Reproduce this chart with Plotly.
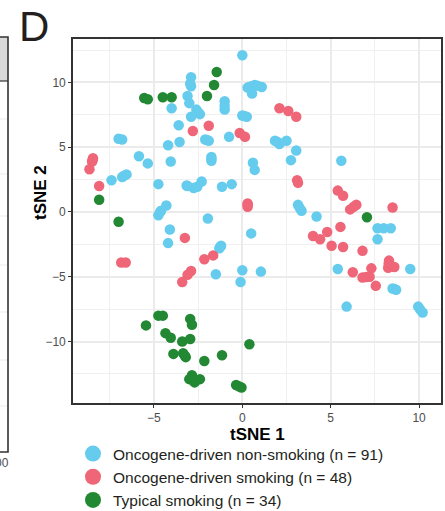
import plotly.graph_objects as go

# ---- data (tSNE coordinates) ----
nonsmk_x = [0.0, -2.9, -2.9, -3.1, -3.0, -4.0, -2.6, -2.4, -2.9, -1.0, -1.0, -3.6, 0.3, 0.7, 1.1, 0.55,
            0.0, 0.25, -7.0, -6.8, -4.2, -3.55, -2.1, -1.9, -0.75, -5.85, -5.35, -4.05, -1.75, -1.75,
            -7.4, -6.8, -6.55, -4.75, -3.15, -2.75, -2.3, -1.15, -0.6, -4.3, -4.6, -4.75, -1.95, -4.1,
            -4.2, -1.2, -1.3, -1.5, 0.0, -0.1, 1.05, 0.5, 0.6, 0.7, 1.85, 2.1, 2.5, 3.05, 2.75, 5.6,
            3.15, 3.35, 4.2, 7.65, 8.4, 7.65, 5.4, 9.5, 8.5, 8.7, 5.9, 9.95, 10.2,
            0.5, -2.95, -2.5, -1.0, 0.1, -2.0, -1.75, -6.7, -2.55, -4.65, -1.25, 2.0, 3.25, 8.0, 8.6,
            10.05, -3.1, 0.85]
nonsmk_y = [12.1, 10.4, 9.7, 8.95, 8.4, 8.0, 7.9, 7.55, 7.35, 8.55, 7.9, 6.7, 9.6, 9.8, 9.65, 9.15,
            7.45, 7.35, 5.65, 5.6, 5.15, 5.4, 5.6, 5.5, 5.8, 4.3, 3.75, 3.9, 4.25, 3.95,
            2.45, 2.7, 2.9, 2.15, 2.05, 1.85, 2.35, 1.95, 2.15, 0.5, 0.1, -0.25, -0.5, -1.35,
            -2.4, -2.6, -2.8, -4.8, -4.5, -5.4, -4.6, -1.65, 3.8, 3.25, 5.5, 5.25, 5.5, 4.75, 4.0, 3.95,
            0.55, 0.1, -0.35, -1.25, -1.25, -2.1, -4.4, -4.4, -5.9, -6.0, -7.3, -7.3, -7.75,
            9.7, 9.9, 7.7, 8.2, 7.4, 5.55, 4.1, 2.8, 1.95, 0.0, -2.7, 5.4, 0.3, -1.25, -5.95,
            -7.5, 2.0, 9.75]

onc_smk_x = [-8.45, -8.5, -8.65, -8.1, -6.85, -6.6, -2.8, -1.9, -0.15, 0.15, 0.3, 0.3, -3.25, -2.15,
             -1.65, -2.9, -3.1, -3.4, 2.1, 2.6, 3.05, 3.1, 3.15, 5.4, 5.7, 6.1, 6.45, 8.5, 5.55, 4.8,
             4.0, 4.4, 5.05, 5.7, 6.8, 8.3, 8.25, 8.6, 7.3, 6.25, 6.8, 7.2, 7.55,
             -8.47, 0.3, 8.28, 6.3, 7.0]
onc_smk_y = [4.15, 3.9, 3.3, 2.0, -3.9, -3.9, 6.25, 6.65, 6.1, 5.8, 0.65, 0.4, -2.0, -3.65,
             -3.35, -4.55, -4.85, -5.4, 8.0, 7.8, 7.35, 2.45, 2.25, 1.65, 1.25, 0.2, 0.55, 0.35, -1.15, -1.55,
             -1.85, -2.1, -2.6, -2.7, -3.0, -3.75, -4.3, -4.25, -4.35, -4.65, -5.05, -5.0, -5.7,
             4.0, 0.55, -4.0, 0.4, -5.02]

typ_smk_x = [-1.45, -1.6, -2.0, -5.55, -5.35, -4.5, -4.0, -8.1, -7.0, 7.05, -4.75, -4.5, -2.95, -2.85,
             -4.35, -4.05, -3.4, -2.95, -3.9, -3.35, -3.2, -2.15, -1.15, 0.4, -2.85, -3.0, -2.7, -2.4,
             -0.35, -0.05, -2.8, -5.45, -3.25, -0.2]
typ_smk_y = [10.8, 9.8, 8.95, 8.8, 8.7, 8.85, 8.85, 0.95, -0.75, -0.4, -8.0, -8.0, -8.25, -8.7,
             -9.35, -9.7, -10.0, -9.8, -10.95, -10.9, -11.2, -11.5, -11.05, -10.2, -12.6, -12.9, -13.15, -12.9,
             -13.35, -13.55, -12.9, -8.75, -11.1, -13.45]

group_names = ["Oncogene-driven non-smoking (n = 91)",
               "Oncogene-driven smoking (n = 48)",
               "Typical smoking (n = 34)"]
group_colors = ["#66CCEE", "#EE6677", "#228833"]

x_ticks = [-5, 0, 5, 10]
y_ticks = [-10, -5, 0, 5, 10]

FONT = "Arial, Liberation Sans, Helvetica, sans-serif"

fig = go.Figure()
for xs, ys, nm, col in zip([nonsmk_x, onc_smk_x, typ_smk_x], [nonsmk_y, onc_smk_y, typ_smk_y],
                           group_names, group_colors):
    fig.add_trace(go.Scatter(x=xs, y=ys, mode="markers", name=nm, showlegend=False,
                             marker=dict(color=col, size=10.5, line=dict(width=0)),
                             hoverinfo="x+y+name"))
# legend entries with larger symbols
for nm, col in zip(group_names, group_colors):
    fig.add_trace(go.Scatter(x=[None], y=[None], mode="markers", name=nm,
                             marker=dict(color=col, size=16)))

L, R, T, B = 73, 4, 39, 108
W, H = 445, 511
pw, ph = W - L - R, H - T - B

def px_x(p):
    return (p - L) / pw

def px_y(p):
    return (H - B - p) / ph

axis_common = dict(showline=True, mirror=True, linecolor="#333333", linewidth=1.6,
                   showgrid=True, gridcolor="#EBEBEB", gridwidth=1.6, zeroline=False,
                   ticks="outside", ticklen=3, tickwidth=1.2, tickcolor="#333333",
                   tickfont=dict(family=FONT, size=12, color="#4D4D4D"))

fig.update_xaxes(range=[-9.58, 11.24], tickvals=x_ticks,
                 minor=dict(dtick=2.5, tick0=0, showgrid=True, gridcolor="#F0F0F0", gridwidth=0.8),
                 **axis_common)
fig.update_yaxes(range=[-14.74, 13.35], tickvals=y_ticks,
                 minor=dict(dtick=2.5, tick0=0, showgrid=True, gridcolor="#F0F0F0", gridwidth=0.8),
                 **axis_common)

annotations = [
    dict(text="D", x=px_x(17), y=px_y(1), xanchor="left", yanchor="top"),
    dict(text="<b>tSNE 1</b>", x=0.5, y=px_y(435), xanchor="center", yanchor="middle",
         font=dict(family=FONT, size=17, color="#000000")),
    dict(text="<b>tSNE 2</b>", x=px_x(40), y=px_y(193), xanchor="center", yanchor="middle",
         textangle=-90, font=dict(family=FONT, size=17, color="#000000")),
    dict(text="00", x=px_x(11), y=px_y(463), xanchor="right", yanchor="middle",
         font=dict(family=FONT, size=12, color="#4D4D4D")),
]
annotations[0]["font"] = dict(family=FONT, size=42, color="#231F20")
for a in annotations:
    a.update(xref="paper", yref="paper", showarrow=False)

shapes = []
# partial neighbouring panel at the left edge
shapes.append(dict(type="rect", xref="paper", yref="paper", x0=px_x(-5), x1=px_x(8),
                   y0=px_y(81), y1=px_y(37), fillcolor="#D9D9D9", line=dict(width=0), layer="below"))
for gy in [119, 174, 216, 265, 312, 360, 406]:
    shapes.append(dict(type="line", xref="paper", yref="paper", x0=px_x(-5), x1=px_x(8),
                       y0=px_y(gy), y1=px_y(gy), line=dict(color="#EBEBEB", width=1), layer="below"))
shapes.append(dict(type="line", xref="paper", yref="paper", x0=px_x(-5), x1=px_x(8),
                   y0=px_y(81), y1=px_y(81), line=dict(color="#333333", width=1.2)))
shapes.append(dict(type="rect", xref="paper", yref="paper", x0=px_x(-5), x1=px_x(8),
                   y0=px_y(452), y1=px_y(37), line=dict(color="#333333", width=1.6)))

fig.update_layout(
    width=W, height=H, margin=dict(l=L, r=R, t=T, b=B, autoexpand=False),
    paper_bgcolor="white", plot_bgcolor="white",
    font=dict(family=FONT),
    annotations=annotations, shapes=shapes,
    legend=dict(x=px_x(73), y=px_y(437), xanchor="left", yanchor="top",
                bgcolor="rgba(0,0,0,0)", font=dict(family=FONT, size=15.5, color="#231F20"),
                itemsizing="trace", tracegroupgap=0),
)

fig.write_html("out.html")
